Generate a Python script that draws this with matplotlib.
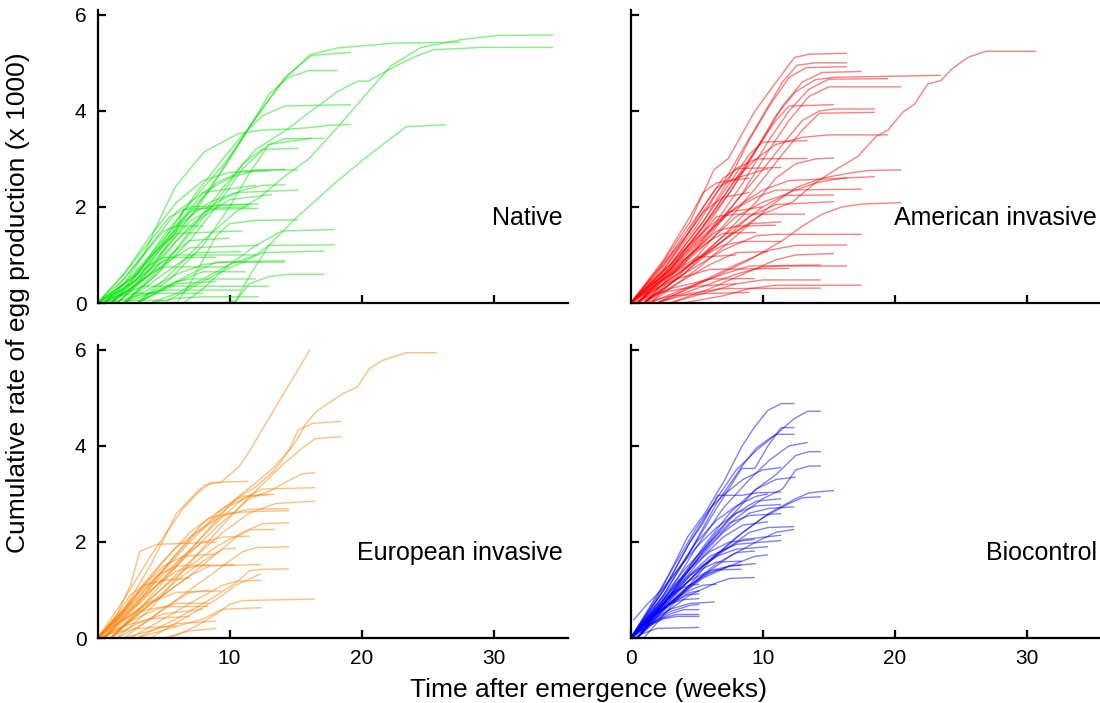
# Cumulative egg production per female over time, four origin groups.
import matplotlib
matplotlib.use("Agg")
import matplotlib.pyplot as plt

plt.rcParams["font.family"] = ["Liberation Sans", "DejaVu Sans"]

# Each line is one female: (week, cumulative eggs x1000) points.
native = [
    [(0.5, 0), (2.5, 0.4), (5, 1.4), (7.4, 2.2), (9.9, 3.0), (11.7, 3.74), (12.9, 4.2), (14.2, 4.67), (16.1, 5.17), (18.2, 5.31), (20.4, 5.36), (22.4, 5.41), (27.5, 5.43)],
    [(2, 0), (4.5, 0.6), (7, 1.5), (9.5, 2.4), (12, 3.2), (14.3, 3.6), (16, 3.96), (17.4, 4.24), (18.1, 4.39), (19.7, 4.62), (20.5, 4.62), (22.7, 4.95), (24, 5.12), (25.4, 5.27), (29, 5.32), (34.5, 5.32)],
    [(3, 0), (5.5, 0.6), (8, 1.3), (10.5, 1.9), (12.3, 2.2), (14, 2.6), (16, 3.0), (18, 3.6), (20.2, 4.3), (22.2, 4.93), (24.5, 5.32), (27.5, 5.48), (30.3, 5.57), (34.5, 5.58)],
    [(10.4, 0), (11.7, 0.65), (13, 1.2), (15, 1.76), (18, 2.5), (20.2, 3.0), (21.9, 3.36), (23.4, 3.67), (26.4, 3.71)],
    [(1, 0), (3, 0.5), (5, 1.2), (7.4, 1.9), (9.9, 2.94), (11.7, 3.74), (12.9, 4.2), (14.2, 4.7), (16.2, 5.15), (19.2, 5.22)],
    [(1.5, 0), (4, 0.7), (6.5, 1.6), (9, 2.6), (11.7, 3.74), (13, 4.35), (14.5, 4.7), (16, 4.84), (18.2, 4.84)],
    [(0.5, 0), (2, 0.4), (3.5, 1.0), (4.8, 1.8), (5.9, 2.42), (8.1, 3.15), (10.7, 3.53), (12.5, 3.6), (14.5, 3.62), (16, 3.65), (17.5, 3.7), (19.2, 3.72)],
    [(1, 0), (3, 0.6), (5, 1.3), (7.5, 2.3), (9.5, 3.0), (11, 3.5), (12.5, 3.9), (14.2, 4.1), (19.2, 4.13)],
    [(0, 0), (2, 0.3), (4, 0.9), (6, 1.6), (8, 2.3), (10, 2.6), (12, 2.77), (15.2, 2.77)],
    [(0.5, 0), (3, 0.5), (5, 1.2), (7, 1.9), (9, 2.5), (11, 2.75), (14.2, 2.78)],
    [(1, 0), (3, 0.4), (5, 1.0), (7, 1.6), (9, 2.1), (11, 2.35), (12.5, 2.45), (14.2, 2.46)],
    [(0, 0), (2.5, 0.5), (4.5, 1.1), (6.5, 1.7), (8.5, 2.1), (10.5, 2.3), (15.2, 2.35)],
    [(1.5, 0), (4, 0.6), (6, 1.3), (8, 1.8), (10, 2.15), (13.2, 2.26)],
    [(0, 0), (2, 0.4), (4, 1.0), (5.5, 1.5), (7, 1.9), (9, 2.04), (12.2, 2.06)],
    [(1, 0), (3, 0.5), (5, 1.1), (7, 1.7), (8.5, 1.95), (12.2, 1.97)],
    [(0.5, 0), (2.5, 0.3), (4.5, 0.9), (6, 1.5), (6.5, 1.95), (8, 1.97), (11.5, 2.0)],
    [(2, 0), (4.5, 0.6), (7, 1.3), (9, 2.0), (11, 2.8), (13, 3.3), (14.2, 3.42), (17.2, 3.43)],
    [(3, 0), (5.5, 0.5), (8, 1.2), (10, 2.0), (11.5, 2.7), (13, 3.3), (16.2, 3.43)],
    [(2, 0), (5, 0.8), (7.5, 1.6), (9.5, 2.3), (11, 2.9), (12.5, 3.2), (15.2, 3.22)],
    [(6, 0), (7, 0.4), (8, 0.9), (9, 1.4), (10, 1.65), (12, 1.72), (15.2, 1.73)],
    [(6.5, 0), (8, 0.3), (10, 0.8), (12, 1.2), (14, 1.5), (18, 1.53)],
    [(4, 0), (6, 0.2), (8, 0.5), (10, 0.8), (12, 1.0), (13, 1.2), (18, 1.21)],
    [(5, 0), (7, 0.3), (9, 0.6), (11, 0.85), (12.5, 1.05), (17.2, 1.08)],
    [(3, 0), (5, 0.3), (7, 0.6), (9, 0.85), (14.2, 0.88)],
    [(2, 0), (4, 0.3), (6, 0.6), (8, 0.8), (9.5, 0.85), (14.2, 0.85)],
    [(9.5, 0), (10.5, 0.05), (11.5, 0.4), (13, 0.55), (14.5, 0.6), (17.2, 0.6)],
    [(1, 0), (3, 0.4), (5, 0.8), (7, 1.15), (12.2, 1.2)],
    [(2, 0), (4, 0.4), (6, 0.8), (7.5, 1.05), (10.9, 1.07)],
    [(0, 0), (2.5, 0.4), (4.5, 0.8), (6, 1.0), (12, 1.0)],
    [(3, 0), (5, 0.3), (7, 0.55), (8, 0.65), (11.2, 0.65)],
    [(2, 0), (4, 0.2), (6, 0.45), (7, 0.5), (12, 0.5)],
    [(1, 0), (3, 0.15), (5, 0.27), (10.9, 0.27)],
    [(4, 0), (6, 0.1), (8, 0.13), (12.2, 0.13)],
    [(0.5, 0), (2, 0.2), (3.5, 0.35), (13, 0.35)],
    [(0, 0), (1.5, 0.15), (3, 0.2), (8, 0.2)],
    [(1.5, 0), (3.5, 0.5), (5.5, 1.0), (7, 1.3), (10, 1.35)],
    [(0, 0), (2, 0.4), (4, 0.8), (5, 0.95), (9, 0.95)],
    [(0.5, 0), (2.5, 0.5), (4.5, 1.1), (6, 1.45), (11, 1.5)],
    [(1, 0), (2.5, 0.3), (4, 0.6), (5, 0.75), (10, 0.75)],
    [(0, 0), (2, 0.6), (4, 1.3), (5.5, 1.8), (7, 2.0), (11.5, 2.05)],
    [(0.5, 0), (2, 0.5), (3.5, 1.0), (5, 1.5), (6, 1.6), (8, 1.6)],
    [(3, 0), (4.5, 0.2), (6, 0.4), (9, 0.45)],
    [(0, 0), (1, 0.05), (5, 0.06)],
    [(0, 0), (2, 0.5), (4, 1.2), (6, 1.9), (8, 2.3), (12, 2.45)],
    [(0, 0), (2, 0.6), (4, 1.4), (6, 2.1), (8, 2.55), (10, 2.72), (13, 2.75)],
]

american = [
    [(0, 0), (2.3, 0.79), (4.5, 1.69), (6.3, 2.77), (7.4, 3.01), (9.4, 3.99), (10.4, 4.37), (12.4, 5.11), (13.5, 5.18), (16.4, 5.2)],
    [(0.5, 0), (3, 0.5), (5.5, 1.0), (8, 1.5), (10, 1.85), (12.3, 2.11), (13.8, 2.46), (15.3, 2.74), (17.2, 3.05), (18.6, 3.47), (19.5, 3.6), (20.6, 3.97), (21.5, 4.14), (22.5, 4.56), (23.5, 4.63), (24.4, 4.89), (25.6, 5.12), (26.9, 5.24), (30.7, 5.24)],
    [(0, 0), (2.5, 0.7), (5, 1.6), (7, 2.5), (8.5, 3.2), (10, 3.9), (11.5, 4.6), (12.6, 4.95), (14, 5.0), (16.4, 5.0)],
    [(0, 0), (3, 0.8), (5.5, 1.7), (7.5, 2.6), (9, 3.4), (10.5, 4.1), (12, 4.7), (13.3, 4.9), (16.4, 4.92)],
    [(0.5, 0), (3, 0.7), (5.5, 1.5), (8, 2.5), (10, 3.4), (11.5, 4.1), (13, 4.6), (14.5, 4.8), (17.5, 4.82)],
    [(0, 0), (2.5, 0.6), (5, 1.4), (7.5, 2.3), (9.5, 3.2), (11, 3.9), (12.5, 4.4), (14, 4.65), (15.5, 4.7), (23.5, 4.74)],
    [(1, 0), (3.5, 0.7), (6, 1.5), (8.5, 2.5), (10.5, 3.4), (12, 4.0), (13.5, 4.45), (15, 4.66), (19.5, 4.67)],
    [(0.5, 0), (3, 0.6), (6, 1.4), (8.5, 2.3), (10.5, 3.2), (12, 3.8), (13.5, 4.3), (15, 4.5), (20.5, 4.5)],
    [(0, 0), (3, 0.7), (5.5, 1.6), (7.5, 2.4), (9.5, 3.2), (11, 3.8), (12, 4.1), (15.4, 4.13)],
    [(1, 0), (4, 0.8), (7, 1.8), (9.5, 2.6), (11.5, 3.3), (13, 3.8), (14.3, 4.0), (15.5, 4.04), (18.5, 4.04)],
    [(1.5, 0), (4.5, 0.8), (7, 1.6), (9.5, 2.4), (11.5, 3.1), (13, 3.6), (14.3, 3.95), (18.5, 3.97)],
    [(0.5, 0), (3.5, 0.9), (6, 1.8), (8, 2.6), (9.5, 3.0), (11, 3.3), (13, 3.45), (15, 3.5), (19.5, 3.5)],
    [(0, 0), (3, 0.8), (5.5, 1.7), (7.5, 2.5), (9, 3.1), (10, 3.35), (13.4, 3.38)],
    [(0, 0), (2.5, 0.7), (4.5, 1.5), (6.5, 2.3), (8, 2.8), (9.5, 3.0), (13.4, 3.01)],
    [(1.5, 0), (5, 0.7), (8, 1.4), (10.5, 2.0), (12.5, 2.4), (14.5, 2.6), (16.5, 2.7), (18, 2.76), (20.5, 2.77)],
    [(1, 0), (4.5, 0.8), (7.5, 1.5), (10, 2.0), (12, 2.3), (14, 2.5), (16, 2.6), (18.5, 2.63)],
    [(0.5, 0), (3.5, 0.8), (6, 1.5), (8, 2.0), (10, 2.35), (12, 2.55), (16.4, 2.6)],
    [(0, 0), (3, 0.7), (5.5, 1.4), (7.5, 1.9), (9.5, 2.2), (11, 2.35), (17.5, 2.37)],
    [(0.5, 0), (3.5, 0.7), (6, 1.3), (8, 1.8), (10, 2.1), (11.5, 2.24), (15.4, 2.25)],
    [(1, 0), (4, 0.6), (7, 1.3), (9, 1.8), (11, 2.05), (15.4, 2.11)],
    [(0, 0), (3, 0.7), (5, 1.3), (6.5, 1.8), (8, 1.85), (13.2, 1.85)],
    [(2, 0), (6, 0.5), (9, 0.9), (11.5, 1.3), (13, 1.6), (14.5, 1.85), (16, 2.0), (17.5, 2.06), (20.5, 2.09)],
    [(0, 0), (2.5, 0.8), (4.5, 1.6), (6, 2.2), (7, 2.6), (8.1, 2.8), (11.4, 2.82)],
    [(0, 0), (2, 0.6), (4, 1.3), (5.5, 2.0), (6.5, 2.4), (8, 2.6), (10.4, 2.8)],
    [(1, 0), (4, 0.6), (7, 1.1), (9.5, 1.4), (11, 1.43), (17.5, 1.43)],
    [(2, 0), (5, 0.4), (8, 0.8), (10.5, 1.1), (12.5, 1.2), (16.4, 1.21)],
    [(3, 0), (6, 0.3), (8.5, 0.6), (11, 0.9), (12.5, 1.0), (15.4, 1.03)],
    [(0.5, 0), (3, 0.5), (5.5, 1.0), (7.5, 1.4), (9, 1.65), (11.4, 1.69)],
    [(0, 0), (2.5, 0.5), (5, 0.9), (7, 1.2), (8.5, 1.28), (11.4, 1.28)],
    [(1, 0), (3.5, 0.4), (6, 0.8), (8, 1.05), (10.4, 1.07)],
    [(2, 0), (5, 0.3), (8, 0.6), (10, 0.75), (11.5, 0.77), (16.4, 0.77)],
    [(1.5, 0), (4, 0.3), (7, 0.6), (9, 0.77), (14.4, 0.79)],
    [(3, 0), (5.5, 0.2), (8, 0.4), (10, 0.48), (14.4, 0.48)],
    [(4, 0), (7, 0.15), (9, 0.3), (11, 0.37), (17.5, 0.37)],
    [(2, 0), (4.5, 0.2), (7, 0.3), (14.4, 0.31)],
    [(0.5, 0), (3, 0.3), (6, 0.5), (9.4, 0.51)],
    [(0, 0), (2, 0.2), (5, 0.35), (8, 0.4)],
    [(1, 0), (3, 0.15), (6, 0.2), (9, 0.22)],
    [(0, 0), (1.5, 0.5), (3, 1.0), (4.5, 1.5), (5.5, 1.9), (7, 2.2), (9, 2.3)],
    [(0, 0), (2, 0.5), (4, 1.1), (6, 1.6), (7.5, 1.9), (10, 2.0)],
    [(0.5, 0), (2.5, 0.5), (4.5, 1.0), (6.5, 1.5), (8, 1.6), (11, 1.62)],
    [(0, 0), (2, 0.4), (4, 0.9), (6, 1.3), (7, 1.45), (9.5, 1.47)],
    [(0, 0), (1.5, 0.3), (3.5, 0.7), (5, 0.95), (8, 1.0)],
    [(1, 0), (4, 0.6), (7, 1.4), (9.5, 2.1), (11, 2.6), (12.5, 2.9), (14, 3.0), (15.4, 3.02)],
    [(0, 0), (2.5, 0.9), (4.5, 1.8), (5.5, 2.3), (6.5, 2.5), (7.5, 2.55), (9, 2.6)],
    [(0, 0), (1.5, 0.25), (3.5, 0.5), (6, 0.7), (12, 0.72)],
]

european = [
    [(0, 0), (2, 0.6), (4, 1.5), (5, 2.05), (6, 2.6), (7.4, 3.0), (8.1, 3.18), (9.4, 3.25), (10.7, 3.56), (11.4, 3.84), (13.95, 5.02), (16.1, 6.0)],
    [(0.5, 0), (3, 0.7), (5.5, 1.6), (8, 2.4), (10.5, 2.9), (12, 3.15), (13.4, 3.49), (15.1, 4.12), (15.8, 4.47), (16.6, 4.72), (18.6, 5.09), (19.7, 5.23), (20.6, 5.61), (21.6, 5.78), (23.4, 5.94), (25.7, 5.94)],
    [(1, 0), (3.5, 0.7), (6, 1.5), (8.5, 2.3), (10.5, 2.9), (12.2, 3.28), (13.4, 3.56), (14.5, 3.91), (15.2, 4.33), (16.3, 4.47), (18.5, 4.51)],
    [(1.5, 0), (4, 0.6), (6.5, 1.4), (9, 2.2), (11, 2.8), (12.5, 3.2), (14, 3.6), (15.5, 3.95), (16.5, 4.15), (18.5, 4.19)],
    [(0, 0), (3, 0.7), (6, 1.5), (9, 2.3), (11.5, 2.9), (13.2, 3.08), (14.5, 3.28), (15.5, 3.42), (16.5, 3.44)],
    [(0.5, 0), (3.5, 0.8), (6.5, 1.7), (9, 2.4), (11, 2.9), (12.5, 3.1), (16.5, 3.13)],
    [(1, 0), (4, 0.8), (7, 1.6), (9.5, 2.2), (11.5, 2.6), (13.5, 2.8), (16.5, 2.85)],
    [(0, 0), (3, 0.8), (5.5, 1.6), (7.5, 2.2), (9.5, 2.55), (11.5, 2.68), (14.5, 2.69)],
    [(0.5, 0), (3.5, 0.7), (6.5, 1.4), (9, 1.9), (11, 2.2), (12.5, 2.38), (14.5, 2.4)],
    [(1, 0), (4, 0.7), (7, 1.3), (9, 1.75), (10.5, 2.1), (11.5, 2.25), (13.4, 2.26)],
    [(2, 0), (5, 0.6), (7.5, 1.1), (9.5, 1.5), (11, 1.8), (12, 1.88), (14.5, 1.9)],
    [(3, 0), (6, 0.4), (8.5, 0.8), (10.5, 1.15), (11.5, 1.4), (12.5, 1.43), (14.5, 1.44)],
    [(4, 0), (6.5, 0.4), (9, 0.8), (10.5, 1.1), (12.4, 1.34)],
    [(2.5, 0), (5, 0.4), (7.5, 0.8), (9.5, 1.1), (10.5, 1.18), (12.4, 1.2)],
    [(5.5, 0), (7.5, 0.25), (9, 0.5), (10, 0.7), (11, 0.78), (16.5, 0.81)],
    [(3, 0), (5.5, 0.2), (8, 0.4), (9.5, 0.6), (12.4, 0.63)],
    [(0, 0), (2, 0.8), (4, 1.7), (5.5, 2.3), (6.5, 2.7), (7.5, 3.0), (8.6, 3.24), (11.4, 3.26)],
    [(0, 0), (1.5, 0.5), (2.5, 1.1), (3.2, 1.8), (4.5, 1.95), (7.5, 1.98), (9, 2.0)],
    [(0, 0), (2, 0.6), (4, 1.3), (6, 1.9), (8, 2.3), (9.5, 2.7), (11, 2.95), (13, 3.0)],
    [(0.5, 0), (2.5, 0.6), (4.5, 1.2), (6.5, 1.7), (8, 2.0), (9.5, 2.1), (11.5, 2.12)],
    [(0, 0), (2, 0.5), (4, 1.0), (6, 1.4), (7.5, 1.5), (10.4, 1.53)],
    [(1, 0), (3, 0.5), (5, 0.9), (7, 1.3), (8.5, 1.5), (12.4, 1.53)],
    [(0, 0), (2, 0.4), (4, 0.75), (6, 0.95), (9.4, 0.98)],
    [(0.5, 0), (2.5, 0.35), (4.5, 0.6), (6, 0.72), (8.4, 0.72)],
    [(0, 0), (1.5, 0.3), (3, 0.55), (5, 0.65), (8.4, 0.66)],
    [(1, 0), (3, 0.3), (5, 0.5), (8, 0.6)],
    [(0, 0), (2, 0.25), (4, 0.4), (7, 0.45)],
    [(2, 0), (4, 0.15), (6, 0.3), (9, 0.35)],
    [(0, 0), (1, 0.1), (3, 0.2), (6, 0.25)],
    [(5, 0), (7, 0.15), (9, 0.2)],
    [(0, 0), (1.5, 0.4), (3, 0.9), (4.5, 1.3), (6, 1.5), (8.5, 1.52)],
    [(0, 0), (2, 0.6), (3.5, 1.1), (5, 1.5), (6.5, 1.7), (9, 1.75)],
    [(0.5, 0), (3, 0.9), (5, 1.6), (7, 2.2), (8.5, 2.5), (10, 2.6), (11.5, 2.63), (14.5, 2.65)],
    [(0, 0), (1, 0.3), (2.5, 0.9), (3.5, 1.1), (5, 1.2), (7, 1.25)],
    [(1.5, 0), (3.5, 0.3), (5.5, 0.7), (7, 0.95), (8.5, 1.0)],
    [(0, 0), (2.5, 0.7), (5, 1.4), (7, 2.0), (8.5, 2.4), (10, 2.75), (11.5, 2.95), (13.4, 2.99)],
    [(1, 0), (3.5, 0.6), (6, 1.2), (8, 1.6), (9.5, 1.85), (10.5, 1.87)],
]

biocontrol = [
    [(0, 0), (2.3, 0.99), (4.3, 2.1), (5.6, 2.59), (7.1, 3.28), (8.4, 3.98), (9.4, 4.4), (10.4, 4.74), (11.4, 4.88), (12.4, 4.88)],
    [(0, 0), (2.5, 1.0), (4.5, 2.0), (6.5, 2.9), (8, 3.5), (9.5, 3.9), (11.4, 4.33), (12.4, 4.57), (13.4, 4.72), (14.4, 4.72)],
    [(0, 0), (2.5, 0.9), (4.5, 1.8), (6.5, 2.7), (8.4, 3.53), (9.4, 3.53), (10.4, 4.0), (11.4, 4.38), (12.4, 4.38)],
    [(0, 0), (2.5, 0.9), (4.5, 1.8), (6.5, 2.8), (8.5, 3.6), (9.5, 3.95), (10.5, 4.15), (11, 4.24), (12.4, 4.24)],
    [(0.5, 0), (3, 1.0), (5, 1.9), (7, 2.7), (9, 3.3), (10.5, 3.7), (12, 4.0), (13.4, 4.07)],
    [(0.5, 0), (3, 0.9), (5.5, 1.8), (7.5, 2.5), (9.5, 3.1), (11, 3.4), (12.5, 3.8), (13.5, 3.88), (14.4, 3.88)],
    [(0, 0), (3, 0.9), (5.5, 1.8), (8, 2.5), (10, 2.9), (11.5, 3.1), (12.5, 3.5), (13.5, 3.58), (14.4, 3.58)],
    [(1, 0), (3.5, 0.8), (6, 1.6), (8.5, 2.2), (10.5, 2.6), (12.5, 2.9), (13.5, 3.02), (14.5, 3.05), (15.4, 3.07)],
    [(0.5, 0), (3, 0.8), (5.5, 1.5), (8, 2.1), (10, 2.5), (12, 2.8), (13, 2.92), (14.4, 2.94)],
    [(0, 0), (2.5, 1.0), (4.5, 2.0), (5.5, 2.4), (6.6, 2.97), (8.4, 2.97), (9.5, 3.02), (11.4, 3.04)],
    [(0, 0), (2.5, 0.8), (5, 1.6), (7, 2.2), (9, 2.6), (10.5, 2.7), (12.4, 2.73)],
    [(0, 0), (2.5, 0.8), (4.5, 1.5), (6.5, 2.2), (8, 2.6), (9.5, 2.85), (11.4, 2.9)],
    [(0, 0), (2, 0.7), (4, 1.4), (6, 2.0), (7.5, 2.4), (9, 2.55), (11.4, 2.59)],
    [(0.5, 0), (3, 0.7), (5.5, 1.3), (7.5, 1.7), (9.5, 2.0), (11, 2.2), (12.4, 2.26)],
    [(0, 0), (2.5, 0.7), (4.5, 1.3), (6.5, 1.75), (8.5, 2.05), (11.4, 2.14)],
    [(0, 0), (2, 0.6), (4, 1.2), (6, 1.7), (8, 1.95), (11.4, 2.03)],
    [(0, 0), (2.5, 0.7), (4.5, 1.3), (6.5, 1.7), (8, 1.85), (10.4, 1.9)],
    [(0.5, 0), (2.5, 0.6), (4.5, 1.1), (6.5, 1.55), (8, 1.78), (9.4, 1.81)],
    [(0, 0), (2, 0.6), (4, 1.1), (5.5, 1.45), (6.5, 1.58), (8.4, 1.6)],
    [(0, 0), (2, 0.5), (4, 1.0), (5.5, 1.3), (6.5, 1.42), (8.4, 1.43)],
    [(0.5, 0), (2.5, 0.5), (4.5, 0.9), (6.5, 1.15), (7.5, 1.24), (9.4, 1.26)],
    [(0, 0), (1.5, 0.4), (3, 0.7), (4.3, 0.9), (5.2, 0.92)],
    [(0, 0), (1.5, 0.35), (3, 0.6), (4.5, 0.72), (6.35, 0.75)],
    [(0, 0), (1.5, 0.3), (3, 0.5), (4, 0.59), (5.2, 0.59)],
    [(0, 0), (1.2, 0.25), (2.5, 0.42), (3.5, 0.49), (5.2, 0.49)],
    [(0, 0), (1, 0.2), (2.5, 0.4), (3.5, 0.45), (5.2, 0.45)],
    [(0, 0), (1, 0.1), (2, 0.2), (5.2, 0.22)],
    [(0.2, 0.37), (1.3, 0.72), (2.3, 0.99), (3.5, 1.4), (5, 1.9), (6.5, 2.3), (8, 2.6), (9.5, 2.75), (11.4, 2.78)],
    [(0, 0), (2, 0.5), (3.5, 0.8), (4.5, 0.95), (5.2, 0.98)],
    [(0, 0), (1.5, 0.3), (3, 0.55), (4.5, 0.68), (5.2, 0.7)],
    [(0.5, 0), (3, 0.9), (5.5, 1.9), (7.5, 2.6), (9.5, 3.1), (11, 3.3), (12.5, 3.35)],
    [(0, 0), (3, 0.8), (5.5, 1.5), (7.5, 1.9), (9, 2.2), (10.4, 2.3), (12.4, 2.32)],
    [(0, 0), (2, 0.5), (4, 0.95), (5.5, 1.25), (7.5, 1.5), (9.5, 1.55)],
    [(0, 0), (1.5, 0.4), (3, 0.75), (4.5, 1.0), (5.5, 1.1), (6.5, 1.12)],
    [(0, 0), (2, 0.9), (3.5, 1.6), (5, 2.3), (6, 2.7), (7, 2.97), (8.5, 3.3), (10, 3.5), (11.4, 3.55)],
    [(0, 0), (2, 0.8), (3.5, 1.4), (5, 2.0), (6.5, 2.45), (8, 2.75), (9.5, 2.95), (10.4, 3.0)],
    [(0.5, 0), (2.5, 0.7), (4, 1.2), (5.5, 1.7), (7, 2.1), (8.5, 2.35), (10.4, 2.42)],
    [(0, 0), (1.5, 0.5), (3, 1.0), (4.5, 1.45), (6, 1.8), (7.5, 2.0), (9.4, 2.05)],
    [(0, 0), (1.5, 0.45), (3, 0.85), (4.5, 1.2), (6, 1.4), (7.5, 1.5), (8.4, 1.52)],
    [(0, 0), (1.5, 0.5), (2.5, 0.8), (3.5, 1.0), (4.5, 1.1), (5.2, 1.12)],
    [(0, 0), (1, 0.3), (2, 0.55), (3, 0.72), (4, 0.8), (5.2, 0.82)],
    [(0.5, 0), (2.5, 0.6), (4.5, 1.1), (6, 1.35), (7.5, 1.5), (9.4, 1.7), (10.4, 1.73)],
]

groups = [native, american, european, biocontrol]
group_labels = ["Native", "American invasive", "European invasive", "Biocontrol"]
group_colors = [(0.0, 0.9, 0.0), (1.0, 0.0, 0.0), (1.0, 0.5, 0.0), (0.0, 0.0, 1.0)]

W, H = 1100, 703
fig = plt.figure(figsize=(W / 100, H / 100), dpi=100)

# Panel rectangles in pixels: left, top-of-y-axis, right, x-axis
boxes = [(97.5, 10, 568, 303), (630.7, 10, 1100, 303),
         (97.5, 345, 568, 638), (630.7, 345, 1100, 638)]

for i, (lines, label, color, box) in enumerate(zip(groups, group_labels, group_colors, boxes)):
    l, t, r, b = box
    ax = fig.add_axes([l / W, 1 - b / H, (r - l) / W, (b - t) / H])
    for pts in lines:
        xs = [p[0] for p in pts]
        ys = [p[1] for p in pts]
        ax.plot(xs, ys, color=color, alpha=0.5, lw=1.0, solid_capstyle="butt")

    ax.set_xlim(0, (r - l) / 13.2)
    ax.set_ylim(0, 6.1)
    for side in ("top", "right"):
        ax.spines[side].set_visible(False)
    for side in ("left", "bottom"):
        ax.spines[side].set_linewidth(1.6)

    ax.set_yticks([0, 2, 4, 6])
    if i == 3:
        ax.set_xticks([0, 10, 20, 30])
    else:
        ax.set_xticks([10, 20, 30])
    ax.tick_params(direction="in", length=6, width=1.6, labelsize=15, pad=8)

    if i % 2 == 1:
        ax.set_yticklabels([])
    if i < 2:
        ax.set_xticklabels([])

    ax.text(0.993 if i % 2 else 0.989, 0.29, label, transform=ax.transAxes,
            ha="right", va="center", fontsize=18)

fig.text(18 / W, 1 - 303 / H, "Cumulative rate of egg production (x 1000)",
         rotation=90, ha="center", va="center", fontsize=19)
fig.text(588 / W, 1 - 690 / H, "Time after emergence (weeks)",
         ha="center", va="center", fontsize=19)

fig.savefig("out.png", dpi=100)
